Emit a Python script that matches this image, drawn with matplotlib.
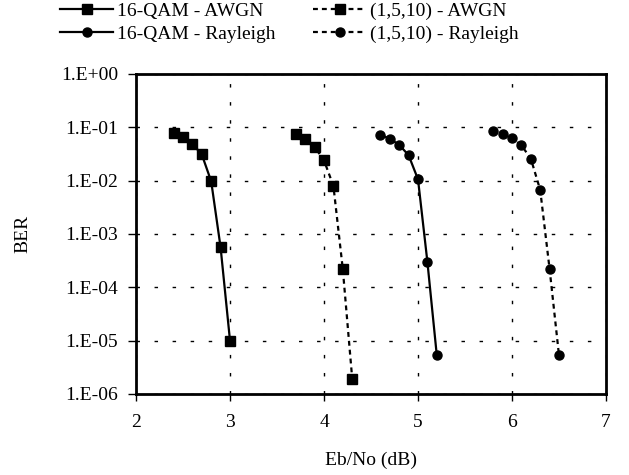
import math
import matplotlib
matplotlib.use("Agg")
import matplotlib.pyplot as plt
from matplotlib.ticker import FixedLocator, FuncFormatter, NullLocator

plt.rcParams['font.family'] = ['Liberation Serif', 'DejaVu Serif']

x_qam_awgn = [2.4, 2.5, 2.6, 2.7, 2.8, 2.9, 3.0]
ber_qam_awgn = [0.077, 0.065, 0.049, 0.031, 0.0097, 5.6e-4, 1.0e-5]

x_code_awgn = [3.7, 3.8, 3.9, 4.0, 4.1, 4.2, 4.3]
ber_code_awgn = [0.074, 0.061, 0.043, 0.024, 0.008, 2.2e-4, 1.95e-6]

x_qam_ray = [4.6, 4.7, 4.8, 4.9, 5.0, 5.1, 5.2]
ber_qam_ray = [0.073, 0.061, 0.047, 0.030, 0.0106, 3.0e-4, 5.3e-6]

x_code_ray = [5.8, 5.9, 6.0, 6.1, 6.2, 6.3, 6.4, 6.5]
ber_code_ray = [0.085, 0.076, 0.062, 0.046, 0.026, 0.0067, 2.2e-4, 5.3e-6]

labels = ['16-QAM - AWGN', '16-QAM - Rayleigh', '(1,5,10) - AWGN', '(1,5,10) - Rayleigh']
x_ticks = [2, 3, 4, 5, 6, 7]
y_ticks = [1e-6, 1e-5, 1e-4, 1e-3, 1e-2, 1e-1, 1e0]

FS = 14

fig = plt.figure(figsize=(6.29, 4.75), dpi=100)
ax = fig.add_axes([136 / 629, (475 - 394) / 475, 470 / 629, 320 / 475])

dot = (0, (2.2, 1.8))
l1, = ax.plot(x_qam_awgn, ber_qam_awgn, color='black', lw=1.6, marker='s', ms=7)
l3, = ax.plot(x_code_awgn, ber_code_awgn, color='black', lw=1.6, ls=dot, marker='s', ms=7)
l2, = ax.plot(x_qam_ray, ber_qam_ray, color='black', lw=1.6, marker='o', ms=6.5)
l4, = ax.plot(x_code_ray, ber_code_ray, color='black', lw=1.6, ls=dot, marker='o', ms=6.5)

ax.set_yscale('log')
ax.set_xlim(2, 7)
ax.set_ylim(1e-6, 1)
ax.xaxis.set_major_locator(FixedLocator(x_ticks))
ax.yaxis.set_major_locator(FixedLocator(y_ticks))
ax.yaxis.set_minor_locator(NullLocator())
ax.xaxis.set_major_formatter(FuncFormatter(lambda v, p: f"{v:g}"))


def fmt(v, p):
    e = int(round(math.log10(v)))
    sign = '+' if e >= 0 else '-'
    return f"1.E{sign}{abs(e):02d}"


ax.yaxis.set_major_formatter(FuncFormatter(fmt))

ax.grid(True, which='major', color='black', ls=(0, (2.5, 10.5)), lw=1.0)
for s in ax.spines.values():
    s.set_linewidth(2.0)
ax.tick_params(axis='y', which='major', direction='out', length=6, width=1.0,
               labelsize=FS, pad=7)
ax.tick_params(axis='x', which='major', direction='out', length=5, width=1.0,
               labelsize=FS, pad=9.4)
ax.set_xlabel('Eb/No (dB)', fontsize=FS)
ax.set_ylabel('BER', fontsize=FS)
ax.yaxis.set_label_coords(-0.2234, 0.5)
ax.xaxis.set_label_coords(0.5, -0.18)

common = dict(loc='upper left', frameon=False, fontsize=FS, handlelength=2.73,
              labelspacing=0.27, handletextpad=0.2, borderpad=0, borderaxespad=0)
leg1 = fig.legend([l1, l2], labels[:2], bbox_to_anchor=(60 / 629, 1 - 2.6 / 475), **common)
leg2 = fig.legend([l3, l4], labels[2:], bbox_to_anchor=(313 / 629, 1 - 2.6 / 475), **common)

fig.savefig('out.png', dpi=100)
